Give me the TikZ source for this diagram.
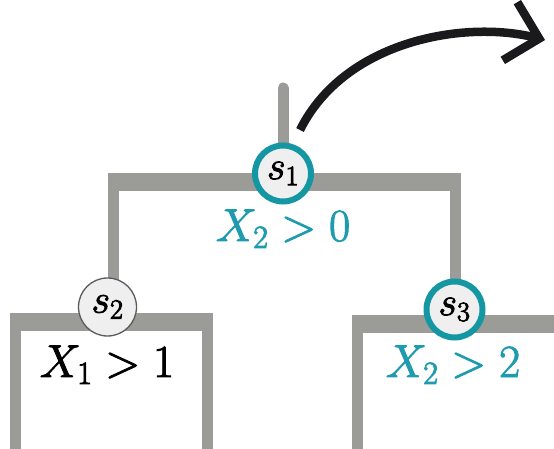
\RequirePackage{fix-cm}
\documentclass[tikz,border=0pt]{standalone}
\usetikzlibrary{arrows.meta}
\definecolor{barg}{RGB}{155,155,151}
\definecolor{teal1}{RGB}{20,150,163}
\definecolor{tealtxt}{RGB}{30,155,175}
\definecolor{nodefill}{RGB}{239,239,239}
\definecolor{ringgray}{RGB}{90,90,90}
\definecolor{arrowk}{RGB}{26,26,28}
\newcommand\heavytext[1]{\special{pdf:literal direct 2 Tr 0.9 w}#1\special{pdf:literal direct 0 Tr}}
\tikzset{
  hbar/.style={draw=barg, line width=18pt, line cap=butt},
  vbar/.style={draw=barg, line width=11pt, line cap=butt},
  tealnode/.style={circle, draw=teal1, line width=6pt, fill=nodefill, minimum size=56pt, inner sep=0pt, font=\fontsize{40}{44}\selectfont},
  graynode/.style={circle, draw=ringgray, line width=1.3pt, fill=nodefill, minimum size=58pt, inner sep=0pt, font=\fontsize{40}{44}\selectfont},
  cond/.style={anchor=base, inner sep=0pt, font=\fontsize{46}{50}\selectfont},
  bigarrow/.style={draw=arrowk, line width=8.5pt, -{Straight Barb[length=30pt, width=60pt, line join=miter]}}
}
\begin{document}
\begin{tikzpicture}[x=1pt, y=-1pt]
\useasboundingbox (0,0) rectangle (554,449);
\clip (0,0) rectangle (554,449);
\fill[white] (0,0) rectangle (554,449);
% coordinates
\coordinate (top) at (283,88);
\coordinate (lj) at (113,182.5);
\coordinate (rj) at (455,182.5);
\coordinate (lbl) at (15,322);
\coordinate (lbr) at (207,322);
\coordinate (rbl) at (357.5,324);
\coordinate (rbr) at (570,324);
\coordinate (arrS) at (300,130);
\coordinate (arrE) at (545,40);
% tree bars
\draw[vbar, line cap=round] (top) -- (283,175);
\draw[hbar] (107.5,182.5) -- (460.5,182.5);
\draw[vbar] (lj) -- (113,307);
\draw[vbar] (rj) -- (455,309.5);
% left box
\draw[hbar] (9.5,322) -- (212.5,322);
\draw[vbar] (lbl) -- (15,460);
\draw[vbar] (lbr) -- (207,460);
% right box
\draw[hbar] (352,324) -- (rbr);
\draw[vbar] (rbl) -- (357.5,460);
% nodes
\node[tealnode] (s1) at (283,173.5) {\heavytext{$s_1$}};
\node[graynode] (s2) at (107.5,307) {\heavytext{$s_2$}};
\node[tealnode] (s3) at (454.5,309.5) {\heavytext{$s_3$}};
\node[cond, text=tealtxt] (c1) at (283,241) {\heavytext{$X_2>0$}};
\node[cond] (c2) at (107,377) {\heavytext{$X_1>1$}};
\node[cond, text=tealtxt] (c3) at (453,377) {\heavytext{$X_2>2$}};
% arrow
\draw[bigarrow] (arrS) .. controls (345,40) and (465,20) .. (arrE);
\end{tikzpicture}
\end{document}
